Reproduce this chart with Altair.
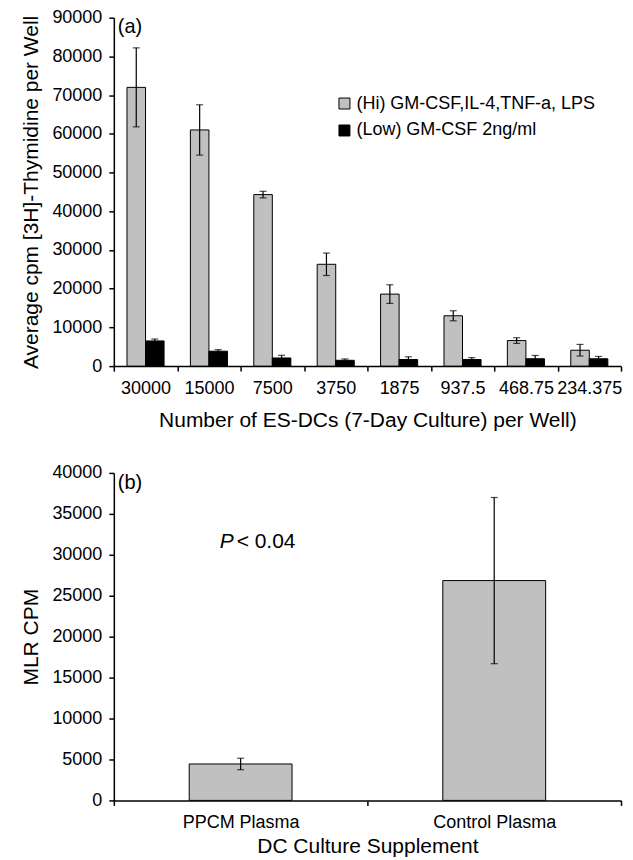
import altair as alt
import pandas as pd

FONT = "Liberation Sans"

# ---------- Panel (a) data ----------
cells = ["30000", "15000", "7500", "3750", "1875", "937.5", "468.75", "234.375"]
series = ["(Hi) GM-CSF,IL-4,TNF-a, LPS", "(Low) GM-CSF 2ng/ml"]
hi_mean = [72000, 61000, 44300, 26300, 18600, 13000, 6600, 4100]
hi_err = [10200, 6500, 850, 2900, 2400, 1300, 730, 1500]
lo_mean = [6500, 3850, 2100, 1500, 1700, 1700, 1900, 1900]
lo_err = [500, 400, 700, 350, 700, 500, 850, 600]

# ---------- Panel (b) data ----------
supplements = ["PPCM Plasma", "Control Plasma"]
mlr_mean = [4450, 26850]
mlr_err = [700, 10150]

rows = []
for i, c in enumerate(cells):
    rows.append({"cells": c, "series": series[0], "mean": hi_mean[i],
                 "lo": hi_mean[i] - hi_err[i], "hi": hi_mean[i] + hi_err[i]})
    rows.append({"cells": c, "series": series[1], "mean": lo_mean[i],
                 "lo": lo_mean[i] - lo_err[i], "hi": lo_mean[i] + lo_err[i]})
df_a = pd.DataFrame(rows)

df_b = pd.DataFrame({
    "supp": supplements,
    "mean": mlr_mean,
    "lo": [m - e for m, e in zip(mlr_mean, mlr_err)],
    "hi": [m + e for m, e in zip(mlr_mean, mlr_err)],
})

W = 508

# ---------- Panel (a) ----------
x_a = alt.X("cells:N", sort=cells,
            scale=alt.Scale(paddingInner=0, paddingOuter=0),
            axis=alt.Axis(title="Number of ES-DCs (7-Day Culture) per Well)",
                          labelAngle=0, tickBand="extent",
                          labelPadding=8, titlePadding=12))
xo_a = alt.XOffset("series:N", sort=series,
                   scale=alt.Scale(paddingInner=0, paddingOuter=0.71))
y_a_axis = alt.Axis(title="Average cpm [3H]-Thymidine per Well",
                    values=list(range(0, 90001, 10000)), tickCount=20,
                    grid=False, format="d", labelOverlap=False,
                    labelPadding=7, titlePadding=10)

base_a = alt.Chart(df_a)
bars_a = base_a.mark_bar(stroke="black", strokeWidth=1).encode(
    x=x_a, xOffset=xo_a,
    y=alt.Y("mean:Q", scale=alt.Scale(domain=[0, 90000], nice=False),
            axis=y_a_axis),
    color=alt.Color("series:N", sort=series,
                    scale=alt.Scale(domain=series, range=["#c0c0c0", "#000000"]),
                    legend=alt.Legend(title=None, orient="none",
                                      legendX=222, legendY=77,
                                      symbolType="square", symbolSize=121,
                                      symbolStrokeColor="black",
                                      symbolStrokeWidth=1,
                                      labelFont=FONT, labelFontSize=18,
                                      labelColor="black", labelOffset=3,
                                      labelLimit=0,
                                      rowPadding=9, padding=0)),
)
err_a = base_a.mark_rule(color="black", strokeWidth=1.2).encode(
    x=x_a, xOffset=xo_a, y="lo:Q", y2="hi:Q")
cap_hi_a = base_a.mark_tick(color="black", size=7, thickness=1.2).encode(
    x=x_a, xOffset=xo_a, y="hi:Q")
cap_lo_a = base_a.mark_tick(color="black", size=7, thickness=1.2).encode(
    x=x_a, xOffset=xo_a, y="lo:Q")
lab_a = alt.Chart(pd.DataFrame({"t": ["(a)"]})).mark_text(
    font=FONT, fontSize=20, align="left", baseline="middle", color="black"
).encode(text="t:N", x=alt.value(4), y=alt.value(9))

panel_a = alt.layer(bars_a, err_a, cap_hi_a, cap_lo_a, lab_a).properties(
    width=W, height=349)

# ---------- Panel (b) ----------
x_b = alt.X("supp:N", sort=supplements,
            scale=alt.Scale(paddingInner=0, paddingOuter=0),
            axis=alt.Axis(title="DC Culture Supplement", labelAngle=0,
                          tickBand="extent", labelPadding=8, titlePadding=4))
y_b_axis = alt.Axis(title="MLR CPM", values=list(range(0, 40001, 5000)),
                    tickCount=20, grid=False, format="d", labelOverlap=False,
                    labelPadding=7, titlePadding=10)

base_b = alt.Chart(df_b)
bars_b = base_b.mark_bar(color="#c0c0c0", stroke="black", strokeWidth=1,
                         size=103).encode(
    x=x_b,
    y=alt.Y("mean:Q", scale=alt.Scale(domain=[0, 40000], nice=False),
            axis=y_b_axis),
)
err_b = base_b.mark_rule(color="black", strokeWidth=1.2).encode(
    x=x_b, y="lo:Q", y2="hi:Q")
cap_hi_b = base_b.mark_tick(color="black", size=7, thickness=1.2).encode(
    x=x_b, y="hi:Q")
cap_lo_b = base_b.mark_tick(color="black", size=7, thickness=1.2).encode(
    x=x_b, y="lo:Q")
lab_b = alt.Chart(pd.DataFrame({"t": ["(b)"]})).mark_text(
    font=FONT, fontSize=20, align="left", baseline="middle", color="black"
).encode(text="t:N", x=alt.value(4), y=alt.value(10))

p_df = pd.DataFrame({"supp": ["PPCM Plasma"], "y": [31600],
                     "p": ["P"], "rest": ["< 0.04"]})
p_italic = alt.Chart(p_df).mark_text(
    font=FONT, fontSize=21, fontStyle="italic", align="left",
    baseline="middle", color="black", dx=-21
).encode(x=alt.X("supp:N", sort=supplements), y="y:Q", text="p:N")
p_rest = alt.Chart(p_df).mark_text(
    font=FONT, fontSize=21, align="left", baseline="middle",
    color="black", dx=-4
).encode(x=alt.X("supp:N", sort=supplements), y="y:Q", text="rest:N")

panel_b = alt.layer(bars_b, err_b, cap_hi_b, cap_lo_b, lab_b, p_italic,
                    p_rest).properties(width=W, height=328)

chart = alt.vconcat(panel_a, panel_b, spacing=34).properties(
    padding={"left": 12, "top": 0, "right": 3, "bottom": 3}
).configure_view(stroke=None).configure_axis(
    labelFont=FONT, titleFont=FONT, labelFontSize=18, titleFontSize=21,
    titleFontWeight="normal", labelColor="black", titleColor="black",
    domainColor="black", tickColor="black", domainWidth=1.5, tickWidth=1.5,
    tickSize=5
).configure_legend(labelFont=FONT)

chart.save("out.html", embed_options={"renderer": "svg", "actions": False})
